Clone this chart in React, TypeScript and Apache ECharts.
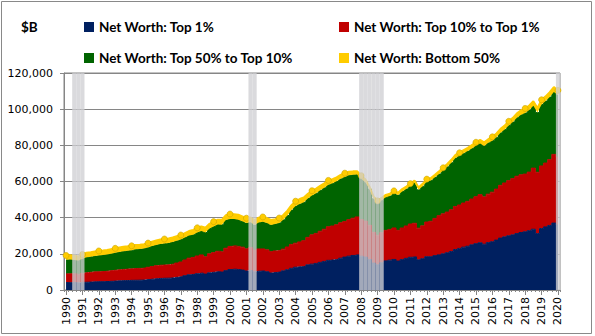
import React, { useEffect, useRef } from "react";
import * as echarts from "echarts";

const years = [1990,1991,1992,1993,1994,1995,1996,1997,1998,1999,2000,2001,2002,2003,2004,2005,2006,2007,2008,2009,2010,2011,2012,2013,2014,2015,2016,2017,2018,2019,2020];
const categories: string[] = [];
years.forEach((y) => {
  for (let q = 1; q <= 4; q++) {
    if (y === 2020 && q > 1) break;
    categories.push(`${y}Q${q}`);
  }
});

// $B, quarterly 1990Q1 .. 2020Q1
const top1 = [
  4100, 4050, 4150, 3950, 4250, 4300, 4400, 4550, 4600, 4600, 4700, 4800,
  4950, 5100, 5200, 5250, 5350, 5400, 5450, 5500, 5750, 6000, 6250, 6400,
  6500, 6550, 6700, 7000, 7300, 7900, 8400, 8600, 9000, 9300, 8800, 9500,
  9800, 10100, 9900, 10700, 11300, 11500, 11300, 11000, 10500, 10800, 10100, 10400,
  10500, 10100, 9400, 9700, 9900, 10600, 11200, 12000, 12600, 12800, 13000, 13900,
  14300, 14700, 15300, 15800, 16400, 16600, 16900, 17600, 18200, 18700, 19100, 19400,
  18700, 18200, 16900, 14900, 14000, 15100, 16100, 16500, 16900, 16000, 16800, 17500,
  18100, 18300, 16700, 17300, 18400, 18400, 19000, 19400, 20000, 20600, 21300, 22400,
  23000, 23700, 24200, 25000, 25600, 26100, 25300, 26200, 26700, 27600, 28700, 29400,
  30000, 30500, 31200, 31800, 32200, 32800, 33600, 31200, 34000, 34900, 35700, 37000,
  36000,
];
const top10to1 = [
  4800, 4900, 4800, 4700, 5000, 5300, 5400, 5500, 5500, 5600, 5700, 5900,
  6000, 6100, 6200, 6300, 6400, 6500, 6500, 6600, 6800, 7000, 7200, 7300,
  7300, 7400, 7600, 7900, 8200, 8700, 9200, 9400, 9800, 10100, 9600, 10500,
  10900, 11300, 11200, 12400, 12800, 12900, 12800, 12700, 12300, 12600, 12000, 12300,
  12200, 12100, 11800, 11900, 11900, 12000, 12600, 13200, 13300, 13800, 14300, 15200,
  16200, 16600, 17200, 17800, 18600, 18800, 19200, 19600, 19700, 20200, 20600, 21000,
  20300, 19900, 18900, 17000, 16300, 16600, 16900, 17000, 17400, 17000, 17500, 17900,
  18400, 18600, 17500, 18200, 19200, 19600, 20600, 21700, 22100, 22500, 23100, 23800,
  24000, 24400, 24800, 25300, 26000, 26600, 26200, 26800, 27400, 28200, 29200, 29800,
  30500, 31100, 31700, 31900, 31900, 32400, 33800, 33900, 34600, 35300, 36400, 38000,
  37500,
];
const top50to10 = [
  7800, 7900, 7700, 7600, 8000, 8500, 8600, 8700, 9000, 9100, 9200, 9400,
  9600, 9800, 10000, 10100, 10300, 10600, 10700, 10800, 11000, 11300, 11500, 11700,
  11900, 12000, 12200, 12300, 12400, 12400, 12500, 12600, 13000, 13200, 13400, 14000,
  14400, 14800, 15000, 15600, 15200, 14800, 14800, 14300, 14200, 14000, 13800, 14600,
  15000, 14900, 14800, 14900, 15300, 16200, 17400, 19000, 20500, 21000, 21200, 21500,
  21800, 22200, 22600, 22900, 23200, 23600, 24000, 24300, 24600, 24500, 24000, 23500,
  22500, 21500, 20000, 18500, 17700, 18000, 18300, 18500, 19200, 19500, 20200, 20500,
  21000, 22400, 21200, 21900, 22300, 22500, 22700, 23000, 24000, 25000, 26000, 26800,
  27200, 27500, 27800, 28000, 28200, 28300, 28200, 28400, 28500, 28700, 29000, 29500,
  30500, 31300, 32400, 33200, 33800, 34300, 34500, 33000, 34000, 34300, 34600, 34500,
  34300,
];
const bottom50 = [
  2400, 2400, 2300, 2300, 2400, 2500, 2500, 2500, 2500, 2500, 2500, 2500,
  2500, 2500, 2500, 2500, 2400, 2400, 2400, 2400, 2400, 2400, 2400, 2500,
  2500, 2500, 2500, 2500, 2500, 2500, 2500, 2600, 2600, 2600, 2600, 2600,
  2700, 2700, 2700, 2700, 2700, 2700, 2700, 2700, 2700, 2700, 2700, 2700,
  2700, 2700, 2700, 2700, 2700, 2700, 2700, 2700, 2700, 2700, 2700, 2600,
  2600, 2600, 2500, 2500, 2400, 2300, 2200, 2200, 2100, 2000, 1900, 1800,
  1700, 1600, 1500, 1400, 1300, 1300, 1300, 1300, 1300, 1300, 1300, 1300,
  1300, 1300, 1300, 1300, 1400, 1400, 1400, 1500, 1500, 1600, 1600, 1700,
  1700, 1800, 1800, 1900, 1900, 2000, 2000, 2000, 2100, 2100, 2200, 2200,
  2300, 2300, 2400, 2400, 2500, 2500, 2500, 2500, 2600, 2600, 2700, 2700,
  2600,
];
const recessionQuarters = ["1990Q3","1990Q4","1991Q1","2001Q2","2001Q3","2008Q1","2008Q2","2008Q3","2008Q4","2009Q1","2009Q2","2020Q1"];
const yTicks = { min: 0, max: 120000, interval: 20000 };

const NAMES = [
  "Net Worth: Top 1%",
  "Net Worth: Top 10% to Top 1%",
  "Net Worth: Top 50% to Top 10%",
  "Net Worth: Bottom 50%",
];
const COLORS = ["#002060", "#C00000", "#006400", "#FFCC00"];

export default function App() {
  const ref = useRef<HTMLDivElement>(null);
  useEffect(() => {
    if (!ref.current) return;
    const chart = echarts.init(ref.current, null, { renderer: "svg" });
    const legendText = { fontFamily: "Lato", fontWeight: "bold" as const, fontSize: 13.5, color: "#000" };
    const legendPos = [
      { left: 84, top: 20 },
      { left: 339, top: 20 },
      { left: 84, top: 51 },
      { left: 339, top: 51 },
    ];
    const axisFont = { fontFamily: "DejaVu Sans", fontSize: 11, color: "#000" };
    // stacked columns with no gap, drawn as stepped stacked areas (no seams)
    const columnSeries = (i: number, data: number[]) => ({
      name: NAMES[i],
      type: "line",
      stack: "nw",
      step: "middle",
      data,
      symbol: "none",
      showSymbol: false,
      lineStyle: { color: COLORS[i], width: 1 },
      areaStyle: { color: COLORS[i], opacity: 1 },
      itemStyle: { color: COLORS[i] },
      z: 2,
    });
    chart.setOption({
      animation: false,
      color: COLORS,
      legend: NAMES.map((n, i) => ({
        data: [{ name: n, icon: "rect", itemStyle: { color: COLORS[i], borderWidth: 0 } }],
        left: legendPos[i].left,
        top: legendPos[i].top,
        itemWidth: 10,
        itemHeight: 10,
        selectedMode: false,
        padding: 0,
        textStyle: legendText,
      })),
      graphic: [
        {
          type: "rect",
          shape: { x: 1.5, y: 1.5, width: 590, height: 332 },
          style: { fill: "none", stroke: "#898989", lineWidth: 1 },
          silent: true,
        },
        {
          type: "text",
          left: 21,
          top: 20,
          style: { text: "$B", fontFamily: "Lato", fontWeight: "bold", fontSize: 13.5, fill: "#000" },
        },
      ],
      grid: {
        left: 64,
        right: 35,
        top: 73,
        bottom: 46,
        show: true,
        borderColor: "#868686",
        borderWidth: 1,
        backgroundColor: "transparent",
      },
      xAxis: [
        {
          type: "category",
          data: categories,
          boundaryGap: true,
          axisLine: { lineStyle: { color: "#868686" } },
          axisTick: { show: true, interval: 3, alignWithLabel: true, length: 5, lineStyle: { color: "#868686" } },
          axisLabel: {
            ...axisFont,
            interval: 3,
            rotate: 90,
            margin: 7,
            formatter: (v: string) => v.slice(0, 4),
          },
          splitLine: { show: false },
        },
        {
          type: "category",
          data: categories,
          boundaryGap: true,
          position: "bottom",
          axisLine: { show: false },
          axisTick: { show: true, interval: 0, length: 2, lineStyle: { color: "#868686" } },
          axisLabel: { show: false },
          splitLine: { show: false },
        },
      ],
      yAxis: {
        type: "value",
        min: yTicks.min,
        max: yTicks.max,
        interval: yTicks.interval,
        axisLine: { show: true, lineStyle: { color: "#868686" } },
        axisTick: { show: true, length: 4, lineStyle: { color: "#868686" } },
        axisLabel: {
          ...axisFont,
          margin: 11,
          formatter: (v: number) => v.toLocaleString("en-US"),
        },
        splitLine: { show: true, lineStyle: { color: "#868686", width: 1 } },
      },
      series: [
        columnSeries(0, top1),
        columnSeries(1, top10to1),
        columnSeries(2, top50to10),
        {
          name: NAMES[3],
          type: "line",
          stack: "nw",
          data: bottom50,
          symbol: "circle",
          symbolSize: 6,
          showSymbol: true,
          lineStyle: { color: COLORS[3], width: 2 },
          areaStyle: { color: COLORS[3], opacity: 1 },
          itemStyle: { color: COLORS[3], borderColor: "#C9A400", borderWidth: 0.6 },
          z: 3,
        },
        {
          name: "Recession",
          type: "bar",
          xAxisIndex: 1,
          data: categories.map((c) => (recessionQuarters.includes(c) ? yTicks.max : "-")),
          barCategoryGap: "0%",
          itemStyle: { color: "#d0d0d4", opacity: 0.78 },
          z: 6,
          silent: true,
        },
      ],
    });
    return () => chart.dispose();
  }, []);
  return (
    <div
      ref={ref}
      style={{ position: "fixed", left: 0, top: 0, width: 595, height: 336, background: "#fff" }}
    />
  );
}
